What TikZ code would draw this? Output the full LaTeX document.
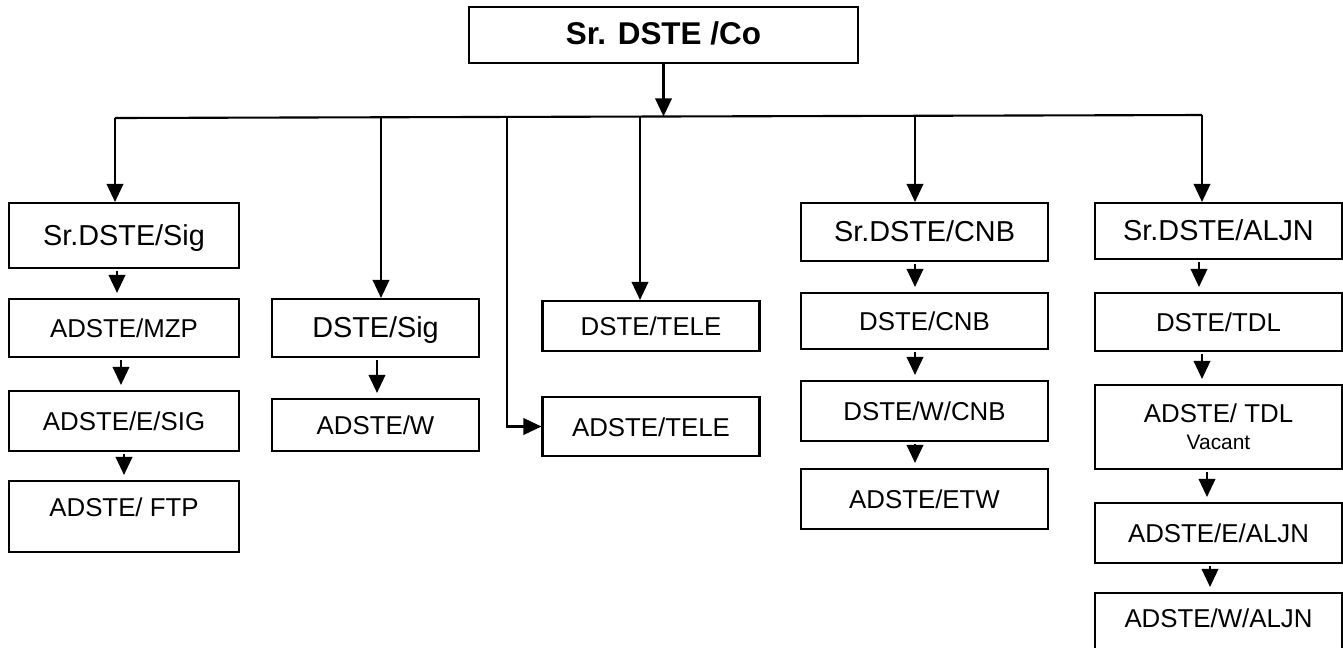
\documentclass[tikz,border=0pt]{standalone}
\usepackage{fontspec}
\setmainfont{Liberation Sans}
\usetikzlibrary{arrows.meta}

\tikzset{
    box/.style={draw, line width=1.2pt, rectangle, inner sep=0pt, text height=11.8pt, text depth=0.5pt},
    arr/.style={line width=1.2pt, -{Triangle[length=0.36cm,width=0.33cm]}},
    gap/.style={shorten >=0.1cm, shorten <=0.04cm},
}

\begin{document}
\begin{tikzpicture}[x=0.02cm, y=-0.02cm]
        \useasboundingbox (0,0) rectangle (1343,647);

        % Jefe
        \node[box, minimum width=7.78cm, minimum height=1.12cm,
              font=\fontsize{17.9}{21}\bfseries\selectfont] (co) at (663.5,35) {Sr. DSTE /Co};

        % Columna Sig
        \foreach \n/\y/\h/\s/\val in {
            sig/235.5/65/16.4/{Sr.DSTE/Sig},
            mzp/328/58/14.7/{ADSTE/MZP},
            esig/421/60/14.7/{ADSTE/E/SIG}
        } {
            \node[box, minimum width=4.6cm, minimum height=\h*0.02cm, font=\fontsize{\s}{20}\selectfont] (\n) at (124,\y) {\val};
        }
        \node[box, minimum width=4.6cm, minimum height=1.42cm, text depth=12.1pt,
              font=\fontsize{14.7}{17}\selectfont] (ftp) at (124,516.5) {ADSTE/ FTP};

        % Columna DSTE/Sig
        \foreach \n/\y/\h/\s/\val in {
            dsig/328/58/16.4/{DSTE/Sig},
            adw/425/52/14.7/{ADSTE/W}
        } {
            \node[box, minimum width=4.14cm, minimum height=\h*0.02cm, font=\fontsize{\s}{20}\selectfont] (\n) at (375.5,\y) {\val};
        }

        % Columna TELE
        \foreach \n/\y/\h/\val in {
            dtele/326/50/{DSTE/TELE},
            atele/426.5/59/{ADSTE/TELE}
        } {
            \node[box, minimum width=4.34cm, minimum height=\h*0.02cm, font=\fontsize{14.7}{17}\selectfont] (\n) at (651,\y) {\val};
        }

        % Columna CNB
        \foreach \n/\y/\h/\s/\val in {
            scnb/232/58/16.4/{Sr.DSTE/CNB},
            dcnb/321/56/14.7/{DSTE/CNB},
            wcnb/411/60/14.7/{DSTE/W/CNB},
            etw/499/60/14.7/{ADSTE/ETW}
        } {
            \node[box, minimum width=4.94cm, minimum height=\h*0.02cm, font=\fontsize{\s}{20}\selectfont] (\n) at (924.5,\y) {\val};
        }

        % Columna ALJN
        \foreach \n/\y/\h/\s/\val in {
            saljn/231/56/16.4/{Sr.DSTE/ALJN},
            tdl/322/58/14.7/{DSTE/TDL},
            ealjn/533/60/14.7/{ADSTE/E/ALJN}
        } {
            \node[box, minimum width=4.94cm, minimum height=\h*0.02cm, font=\fontsize{\s}{20}\selectfont] (\n) at (1218.5,\y) {\val};
        }
        \node[draw, line width=1.2pt, inner sep=0pt, align=center, minimum width=4.94cm, minimum height=1.68cm,
              font=\fontsize{14.7}{15.3}\selectfont] (atdl) at (1218.5,427)
              {ADSTE/ TDL\\{\fontsize{11.9}{14}\selectfont Vacant}};
        \node[box, minimum width=4.94cm, minimum height=1.54cm, text depth=16.6pt,
              font=\fontsize{14.7}{17}\selectfont] (waljn) at (1218.5,631.5) {ADSTE/W/ALJN};

        % Barra
        \coordinate (busL) at (115,118);
        \coordinate (busR) at (1202,115);
        \coordinate (bT) at (661,116.4);
        \coordinate (b2) at (381,117.3);
        \coordinate (b3) at (507,116.9);
        \coordinate (b4) at (640,116.6);
        \coordinate (b5) at (915,115.8);
        \draw[line width=1.2pt] (busL) -- (busR);
        \draw[arr] (co.south) -- (co.south |- bT);
        \draw[arr] (busL) -- (busL |- sig.north);
        \draw[arr] (b2) -- (b2 |- dsig.north);
        \draw[arr] (b3) |- (atele.west);
        \draw[arr] (b4) -- (b4 |- dtele.north);
        \draw[arr] (b5) -- (b5 |- scnb.north);
        \draw[arr] (busR) -- (busR |- saljn.north);

        % Flechas internas
        \foreach \a/\b/\dx in {
            sig/mzp/-7, mzp/esig/-3, esig/ftp/0,
            dsig/adw/1.5,
            scnb/dcnb/-9.5, dcnb/wcnb/-9.5, wcnb/etw/-9.5,
            saljn/tdl/-19.5, tdl/atdl/-16.5, atdl/ealjn/-11.5, ealjn/waljn/-8.5
        } {
            \draw[arr, gap] ([xshift=\dx*0.02cm]\a.south) -- ([xshift=\dx*0.02cm]\b.north);
        }
    \end{tikzpicture}
\end{document}
